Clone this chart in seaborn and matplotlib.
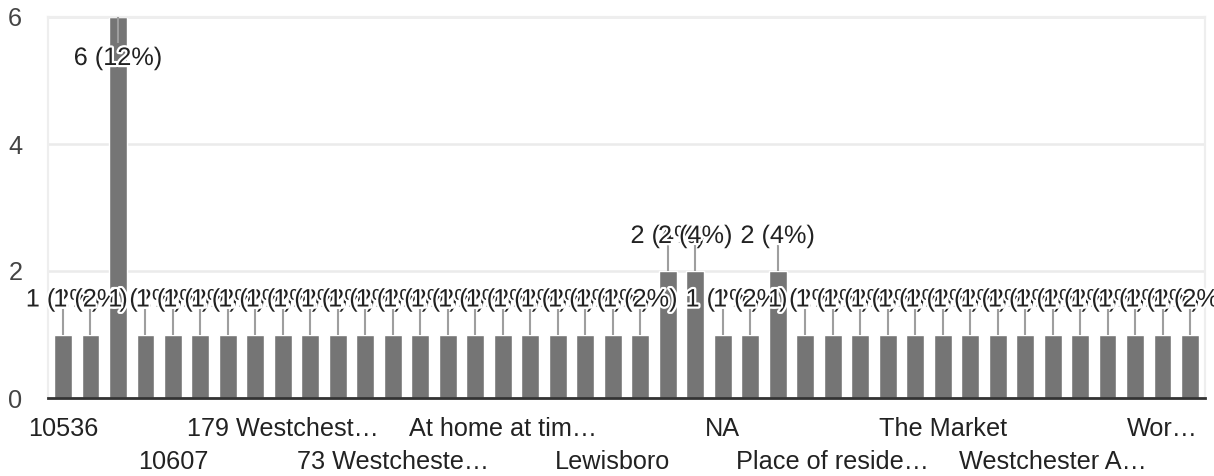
import matplotlib
matplotlib.use("Agg")
import matplotlib.pyplot as plt
import matplotlib.patheffects as pe
from matplotlib.transforms import offset_copy
import seaborn as sns

# ---- data ----
categories = [
    "10536", "10549", "10590", "10597", "10607", "10804", "12 Main St", "15 Cherry St",
    "179 Westchest…", "2 Park Lane", "300 Main St", "5 Elm St", "73 Westcheste…",
    "82 Smith Ave", "99 Main St", "Armonk", "At home at tim…", "Bedford", "Cross River",
    "Goldens Bridge", "Lewisboro", "Mount Kisco", "Mt. Kisco", "My home", "NA",
    "Office", "Ossining", "Peekskill", "Place of reside…", "Pound Ridge", "Somers",
    "South Salem", "The Market", "Town of Lewisboro", "Vista", "Waccabuc",
    "Westchester A…", "Westchester Ave", "White Plains", "Work", "Wor…", "Yorktown",
]
values = [
    1, 1, 6, 1, 1, 1, 1, 1, 1, 1, 1, 1, 1, 1,
    1, 1, 1, 1, 1, 1, 1, 1, 2, 2, 1, 1, 2, 1,
    1, 1, 1, 1, 1, 1, 1, 1, 1, 1, 1, 1, 1, 1,
]
shown_tick_labels = {
    0: "10536", 4: "10607", 8: "179 Westchest…", 12: "73 Westcheste…",
    16: "At home at tim…", 20: "Lewisboro", 24: "NA", 28: "Place of reside…",
    32: "The Market", 36: "Westchester A…", 40: "Wor…",
}
y_ticks = [0, 2, 4, 6]

# ---- style ----
sns.set_style("white")
plt.rcParams["font.family"] = ["Liberation Sans", "DejaVu Sans"]

W, H, DPI = 1214, 476, 100
fig = plt.figure(figsize=(W / DPI, H / DPI), dpi=DPI)
ax_left, ax_right, ax_top, ax_bottom = 48, 1205, 17, 398
ax = fig.add_axes([ax_left / W, (H - ax_bottom) / H,
                   (ax_right - ax_left) / W, (ax_bottom - ax_top) / H])

bar_color = "#757575"
sns.barplot(x=categories, y=values, color=bar_color, saturation=1,
            width=0.65, ax=ax, zorder=2)

n = len(categories)
ax.set_xlim(-0.545, n - 1 + 0.545)
ax.set_ylim(0, 6)
ax.set_yticks(y_ticks)
ax.set_yticklabels([str(t) for t in y_ticks])
ax.set_xticks([])
ax.set_xlabel("")
ax.set_ylabel("")

FS = 18.2  # ~25px
ax.tick_params(axis="y", length=0, pad=18.5, labelsize=FS, labelcolor="#444444")
ax.yaxis.grid(True, color="#ebebeb", linewidth=1.8, zorder=0)
ax.set_axisbelow(True)
for s in ["left", "right", "top"]:
    ax.spines[s].set_color("#eeeeee")
    ax.spines[s].set_linewidth(1.6)
ax.spines["bottom"].set_color("#333333")
ax.spines["bottom"].set_linewidth(2.0)
ax.spines["bottom"].set_zorder(5)

# x tick labels, two alternating rows
xt = ax.get_xaxis_transform()
for k, (i, lab) in enumerate(sorted(shown_tick_labels.items())):
    dy = -38 if k % 2 == 0 else -71
    ax.text(i, 0, lab, transform=offset_copy(xt, fig=fig, x=0, y=dy, units="dots"),
            ha="center", va="baseline", fontsize=FS, color="#222222")

# value annotations with leader lines
total = sum(values)
h_px = ax.get_position().height * H
ppu = h_px / 6.0
stem = 26.0 / ppu
vmax = max(values)
halo = [pe.withStroke(linewidth=3.2, foreground="white")]
z = 10
for i, v in enumerate(values):
    pct = round(100 * v / total)
    label = f"{v} ({pct}%)"
    if v == vmax:
        ax.plot([i, i], [v, v - stem], color="#9e9e9e", lw=1.5, zorder=z,
                solid_capstyle="butt")
        ty = -48
    else:
        ax.plot([i, i], [v, v + stem], color="#9e9e9e", lw=1.5, zorder=z,
                solid_capstyle="butt")
        ty = 28
    ax.text(i, v, label, transform=offset_copy(ax.transData, fig=fig, x=0, y=ty, units="dots"),
            ha="center", va="baseline", fontsize=FS, color="#222222",
            path_effects=halo, zorder=z + 1, clip_on=False)
    z += 2

fig.savefig("out.png", dpi=DPI)
